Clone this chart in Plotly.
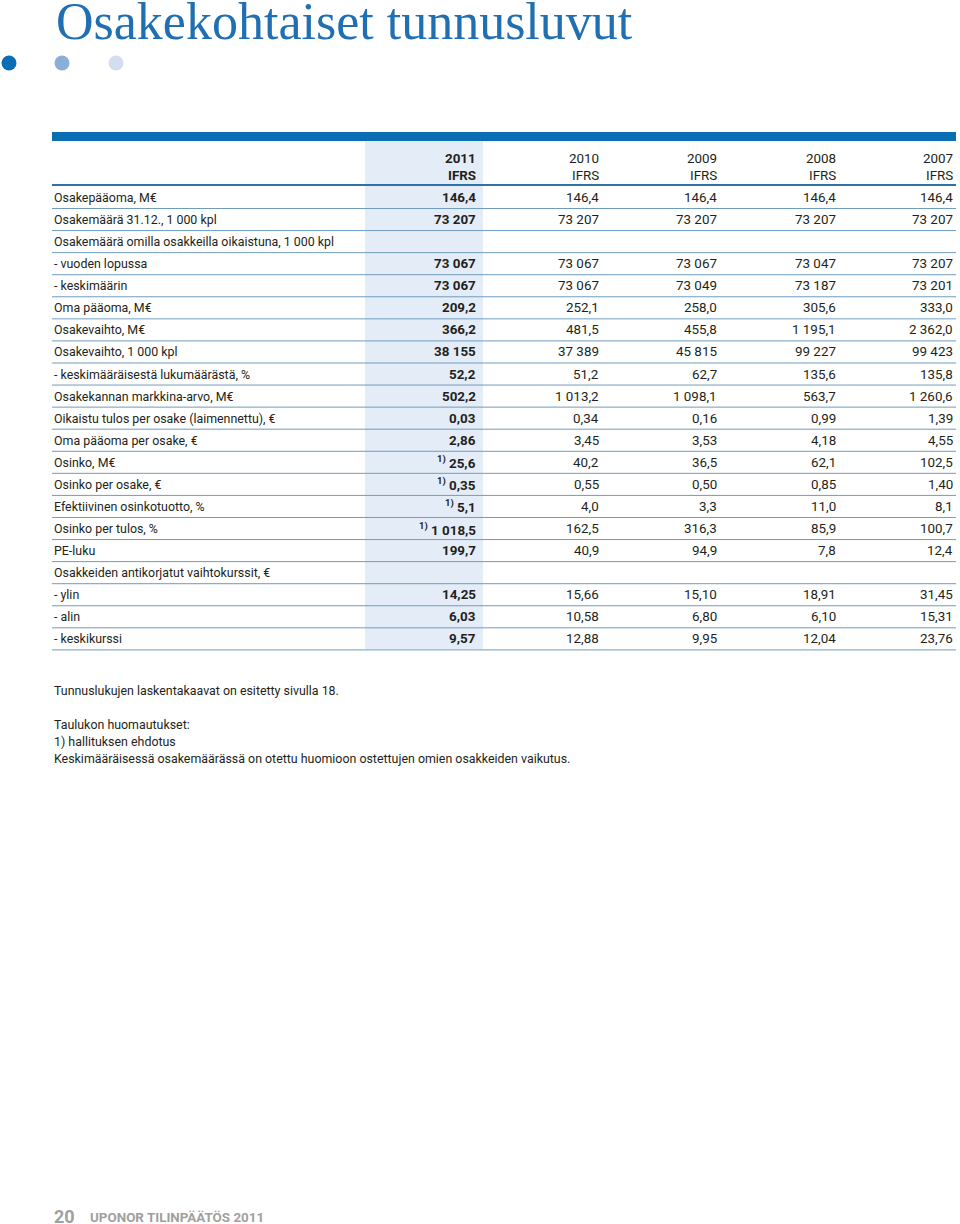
import plotly.graph_objects as go

# ---------------- data ----------------
title = "Osakekohtaiset tunnusluvut"
years = ["2011", "2010", "2009", "2008", "2007"]
basis = ["IFRS", "IFRS", "IFRS", "IFRS", "IFRS"]

row_labels = [
    "Osakepääoma, M€",
    "Osakemäärä 31.12., 1 000 kpl",
    "Osakemäärä omilla osakkeilla oikaistuna, 1 000 kpl",
    "- vuoden lopussa",
    "- keskimäärin",
    "Oma pääoma, M€",
    "Osakevaihto, M€",
    "Osakevaihto, 1 000 kpl",
    "- keskimääräisestä lukumäärästä, %",
    "Osakekannan markkina-arvo, M€",
    "Oikaistu tulos per osake (laimennettu), €",
    "Oma pääoma per osake, €",
    "Osinko, M€",
    "Osinko per osake, €",
    "Efektiivinen osinkotuotto, %",
    "Osinko per tulos, %",
    "PE-luku",
    "Osakkeiden antikorjatut vaihtokurssit, €",
    "- ylin",
    "- alin",
    "- keskikurssi",
]

v2011 = ["146,4", "73 207", "", "73 067", "73 067", "209,2", "366,2", "38 155", "52,2",
         "502,2", "0,03", "2,86", "25,6", "0,35", "5,1", "1 018,5", "199,7", "",
         "14,25", "6,03", "9,57"]
v2010 = ["146,4", "73 207", "", "73 067", "73 067", "252,1", "481,5", "37 389", "51,2",
         "1 013,2", "0,34", "3,45", "40,2", "0,55", "4,0", "162,5", "40,9", "",
         "15,66", "10,58", "12,88"]
v2009 = ["146,4", "73 207", "", "73 067", "73 049", "258,0", "455,8", "45 815", "62,7",
         "1 098,1", "0,16", "3,53", "36,5", "0,50", "3,3", "316,3", "94,9", "",
         "15,10", "6,80", "9,95"]
v2008 = ["146,4", "73 207", "", "73 047", "73 187", "305,6", "1 195,1", "99 227", "135,6",
         "563,7", "0,99", "4,18", "62,1", "0,85", "11,0", "85,9", "7,8", "",
         "18,91", "6,10", "12,04"]
v2007 = ["146,4", "73 207", "", "73 207", "73 201", "333,0", "2 362,0", "99 423", "135,8",
         "1 260,6", "1,39", "4,55", "102,5", "1,40", "8,1", "100,7", "12,4", "",
         "31,45", "15,31", "23,76"]
footnote_2011 = [False] * 12 + [True, True, True, True] + [False] * 5
footnote_mark = "1)"

notes = [
    "Tunnuslukujen laskentakaavat on esitetty sivulla 18.",
    "",
    "Taulukon huomautukset:",
    "1) hallituksen ehdotus",
    "Keskimääräisessä osakemäärässä on otettu huomioon ostettujen omien osakkeiden vaikutus.",
]
page_no = "20"
footer = "UPONOR TILINPÄÄTÖS 2011"

# ---------------- layout constants ----------------
W, H = 960, 1224
BLUE = "#0a6eb4"
TEXT = "#231f20"
FONT = "Roboto, Noto Sans, sans-serif"
FS_LAB = 12.4
FS_NUM = 13.4

left_x = 52
right_x = 956
col_right = [478, 601, 719, 838, 955]
hl_x0, hl_x1 = 365, 483
bar_y0, bar_y1 = 132, 141
hdr_y1, hdr_y2 = 158, 175
hdr_line_y = 185
row_y0 = 197.5
row_dy = 22.07

fig = go.Figure()
shapes = []
ann = []

n = len(row_labels)
last_line = row_y0 + (n - 1) * row_dy + 11
shapes.append(dict(type="rect", x0=hl_x0, x1=hl_x1, y0=bar_y1, y1=last_line - 1,
                   fillcolor="#e4edf7", line_width=0, layer="below"))
shapes.append(dict(type="rect", x0=left_x, x1=right_x, y0=bar_y0, y1=bar_y1,
                   fillcolor=BLUE, line_width=0))
shapes.append(dict(type="line", x0=left_x, x1=right_x, y0=hdr_line_y, y1=hdr_line_y,
                   line=dict(color="#2d73a8", width=2)))

# header
for j, (yr, b) in enumerate(zip(years, basis)):
    bold = j == 0
    for txt, yy in ((yr, hdr_y1), (b, hdr_y2)):
        ann.append(dict(x=col_right[j], y=yy, text=f"<b>{txt}</b>" if bold else txt,
                        xanchor="right", yanchor="middle", showarrow=False,
                        font=dict(family=FONT, size=FS_NUM, color=TEXT)))

cols = [v2011, v2010, v2009, v2008, v2007]
for i, lab in enumerate(row_labels):
    yc = row_y0 + i * row_dy
    ann.append(dict(x=left_x, y=yc, text=lab, xanchor="left", yanchor="middle",
                    showarrow=False, font=dict(family=FONT, size=FS_LAB, color=TEXT)))
    for j, col in enumerate(cols):
        v = col[i]
        if not v:
            continue
        if j == 0:
            t = f"<b>{v}</b>"
            if footnote_2011[i]:
                t = f"<sup><b>{footnote_mark}</b></sup> " + t
        else:
            t = v
        ann.append(dict(x=col_right[j], y=yc, text=t, xanchor="right", yanchor="middle",
                        showarrow=False, font=dict(family=FONT, size=FS_NUM, color=TEXT)))
    ly = yc + 11
    shapes.append(dict(type="line", x0=left_x, x1=right_x, y0=ly, y1=ly,
                       line=dict(color="#6f9cbf", width=1)))

# title and dots
ann.append(dict(x=54, y=52, text=title, xanchor="left", yanchor="bottom", showarrow=False,
                font=dict(family="Liberation Serif, serif", size=52, color="#1f6fb2")))
dot_x = [9, 62, 116]
dot_c = [BLUE, "#8baed8", "#d2ddef"]
fig.add_trace(go.Scatter(x=dot_x, y=[63, 63, 63], mode="markers", cliponaxis=False,
                         marker=dict(size=15, color=dot_c, line_width=0),
                         hoverinfo="skip", showlegend=False))

# notes
note_y0 = 690
for k, t in enumerate(notes):
    if t:
        ann.append(dict(x=left_x, y=note_y0 + k * 17, text=t, xanchor="left",
                        yanchor="middle", showarrow=False,
                        font=dict(family=FONT, size=12.4, color=TEXT)))

# footer
ann.append(dict(x=left_x, y=1216, text=f"<b>{page_no}</b>", xanchor="left", yanchor="middle",
                showarrow=False, font=dict(family="Roboto, sans-serif", size=18, color="#a0a0a0")))
ann.append(dict(x=88, y=1217, text=f"<b>{footer}</b>", xanchor="left", yanchor="middle",
                showarrow=False, font=dict(family="Roboto, sans-serif", size=13.4, color="#a0a0a0")))

fig.update_layout(
    width=W, height=H, margin=dict(l=0, r=0, t=0, b=0),
    paper_bgcolor="white", plot_bgcolor="white",
    xaxis=dict(range=[0, W], visible=False, fixedrange=True),
    yaxis=dict(range=[H, 0], visible=False, fixedrange=True),
    shapes=shapes, annotations=ann, showlegend=False,
)
fig.write_html(
    "out.html",
    config={"displayModeBar": False},
    post_script="document.body.style.margin='0';document.body.style.overflow='hidden';",
)
